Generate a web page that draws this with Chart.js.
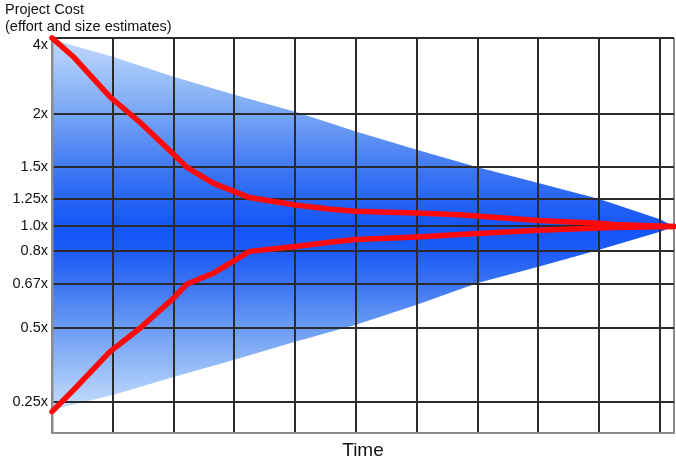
<!DOCTYPE html>
<html>
<head>
<meta charset="utf-8">
<title>Cone of Uncertainty</title>
<script src="https://cdn.jsdelivr.net/npm/chart.js@4.4.1/dist/chart.umd.min.js"></script>
<style>
  html, body { margin: 0; padding: 0; background: #fff; }
  #cone { display: block; }
</style>
</head>
<body>
<canvas id="cone" width="676" height="465"></canvas>
<script>
const gridTimes = [0, 1, 2, 3, 4, 5, 6, 7, 8, 9, 10, 10.23];
const coneTimes = [0, 1, 2, 3, 4, 5, 6, 7, 8, 9, 10, 10.23];
const coneHigh = [3.94, 3.37, 2.81, 2.38, 2.04, 1.82, 1.65, 1.50, 1.37, 1.25, 1.06, 1.0];
const coneLow = [0.234, 0.268, 0.317, 0.372, 0.44, 0.511, 0.584, 0.674, 0.736, 0.812, 0.954, 1.0];
const estimateTimes = [0, 0.35, 0.95, 1.45, 2.0, 2.22, 2.65, 3.25, 4.0, 4.6, 5.0, 6.0, 6.7, 8.0, 9.0, 9.25, 10.23];
const highEstimate = [4.0, 3.37, 2.34, 1.91, 1.61, 1.5, 1.37, 1.26, 1.19, 1.15, 1.13, 1.115, 1.10, 1.05, 1.025, 1.015, 1.0];
const lowEstimate = [0.23, 0.28, 0.40, 0.50, 0.61, 0.67, 0.71, 0.80, 0.835, 0.87, 0.89, 0.91, 0.93, 0.965, 0.985, 0.99, 1.0];
const tickValues = [0.25, 0.5, 0.67, 0.8, 1.0, 1.25, 1.5, 2, 4];
const tickLabels = ['0.25x', '0.5x', '0.67x', '0.8x', '1.0x', '1.25x', '1.5x', '2x', '4x'];

// The cost axis in the picture is hand spaced, not a true log axis.
// Map a multiplier onto a 0..100 axis, log-interpolating between the stops.
const stopValues = [0.19, 0.25, 0.5, 0.67, 0.8, 1.0, 1.25, 1.5, 2, 4];
const stopUnits = [0, 7.75, 26.58, 37.72, 45.97, 52.30, 59.24, 67.24, 80.76, 100];

function toAxis(v) {
  for (let i = 0; i < stopValues.length - 1; i++) {
    const a = stopValues[i], b = stopValues[i + 1];
    if (v <= b || i === stopValues.length - 2) {
      const t = Math.log(v / a) / Math.log(b / a);
      return stopUnits[i] + t * (stopUnits[i + 1] - stopUnits[i]);
    }
  }
}

function points(xs, ys) {
  return xs.map((x, i) => ({ x: x, y: toAxis(ys[i]) }));
}

const FONT = "'Liberation Sans', Arial, Helvetica, sans-serif";
const textColor = '#111';
const gridColor = '#2b2b2b';
const borderGray = '#8c8c8c';

function coneGradient(context) {
  const area = context.chart.chartArea;
  if (!area) return 'rgba(30, 90, 245, 0.8)';
  const g = context.chart.ctx.createLinearGradient(0, area.top, 0, area.bottom);
  g.addColorStop(0.00, '#c2dbfb');
  g.addColorStop(0.19, '#78a6f4');
  g.addColorStop(0.33, '#3f78f2');
  g.addColorStop(0.41, '#2664f5');
  g.addColorStop(0.48, '#1555f8');
  g.addColorStop(0.55, '#1f5df6');
  g.addColorStop(0.62, '#3a74f2');
  g.addColorStop(0.73, '#6a9bf3');
  g.addColorStop(0.92, '#bcd8fa');
  g.addColorStop(1.00, '#dcebfd');
  return g;
}

const xMax = gridTimes[gridTimes.length - 1];

new Chart(document.getElementById('cone'), {
  type: 'line',
  data: {
    datasets: [
      {
        label: 'cone high',
        data: points(coneTimes, coneHigh),
        borderWidth: 0,
        pointRadius: 0,
        backgroundColor: coneGradient,
        fill: '+1'
      },
      {
        label: 'cone low',
        data: points(coneTimes, coneLow),
        borderWidth: 0,
        pointRadius: 0,
        fill: false
      },
      {
        label: 'high estimate',
        data: points(estimateTimes, highEstimate),
        borderColor: '#ff0a0a',
        borderWidth: 5.5,
        borderCapStyle: 'round',
        borderJoinStyle: 'round',
        pointRadius: 0,
        fill: false,
        clip: false
      },
      {
        label: 'low estimate',
        data: points(estimateTimes, lowEstimate),
        borderColor: '#ff0a0a',
        borderWidth: 5.5,
        borderCapStyle: 'round',
        borderJoinStyle: 'round',
        pointRadius: 0,
        fill: false,
        clip: false
      }
    ]
  },
  options: {
    responsive: false,
    animation: false,
    events: [],
    layout: { padding: { left: 5, top: 0, right: 2, bottom: 0 } },
    plugins: {
      legend: { display: false },
      tooltip: { enabled: false },
      // fill under the grid, red lines over it
      filler: { drawTime: 'beforeDraw' },
      title: {
        display: true,
        align: 'start',
        text: ['Project Cost', '(effort and size estimates)'],
        color: textColor,
        font: { family: FONT, size: 14.5, weight: 'normal', lineHeight: 1.17 },
        padding: { top: 2, bottom: 2 }
      }
    },
    scales: {
      x: {
        type: 'linear',
        min: 0,
        max: xMax,
        afterBuildTicks: (scale) => {
          scale.ticks = gridTimes.map(v => ({ value: v }));
        },
        afterFit: (scale) => { scale.height = 32; },
        ticks: { display: false },
        grid: {
          drawTicks: false,
          lineWidth: 2,
          color: (c) => (c.tick && (c.tick.value === 0 || c.tick.value === xMax)) ? borderGray : gridColor
        },
        border: { display: true, color: borderGray, width: 2 },
        title: {
          display: true,
          text: 'Time',
          color: textColor,
          font: { family: FONT, size: 19 },
          padding: { top: 0, bottom: 3 }
        }
      },
      y: {
        type: 'linear',
        min: 0,
        max: 100,
        afterBuildTicks: (scale) => {
          scale.ticks = tickValues.map(v => ({ value: toAxis(v) }));
        },
        afterFit: (scale) => { scale.width = 47; },
        ticks: {
          padding: 4,
          color: textColor,
          font: { family: FONT, size: 14.5, lineHeight: 1 },
          callback: (value, index) => index === tickLabels.length - 1 ? ['', tickLabels[index]] : tickLabels[index]
        },
        grid: { drawTicks: false, lineWidth: 2, color: gridColor },
        border: { display: true, color: borderGray, width: 2.5 }
      }
    }
  }
});
</script>
</body>
</html>
